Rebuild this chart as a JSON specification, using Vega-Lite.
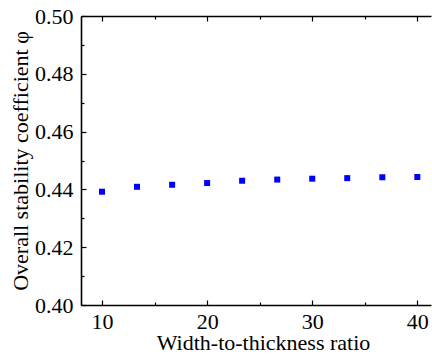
{
  "$schema": "https://vega.github.io/schema/vega-lite/v6.json",
  "autosize": {"type": "none"},
  "padding": {"left": 81, "top": 16, "right": 1, "bottom": 51},
  "width": 350,
  "height": 289,
  "background": "white",
  "config": {
    "view": {"stroke": null},
    "axis": {
      "labelFont": "Liberation Serif",
      "titleFont": "Liberation Serif",
      "labelColor": "black",
      "titleColor": "black",
      "domainColor": "black",
      "tickColor": "black",
      "grid": false,
      "titleFontWeight": "normal",
      "domainWidth": 1.6,
      "tickWidth": 1.2
    }
  },
  "data": {
    "values": [
      {"ratio": 10.0, "phi": 0.4392},
      {"ratio": 13.33, "phi": 0.4409},
      {"ratio": 16.67, "phi": 0.4416},
      {"ratio": 20.0, "phi": 0.4422},
      {"ratio": 23.33, "phi": 0.4430},
      {"ratio": 26.67, "phi": 0.4434},
      {"ratio": 30.0, "phi": 0.4437},
      {"ratio": 33.33, "phi": 0.4439},
      {"ratio": 36.67, "phi": 0.4442},
      {"ratio": 40.0, "phi": 0.4443}
    ]
  },
  "resolve": {"axis": {"x": "independent", "y": "independent"}},
  "layer": [
    {
      "mark": {"type": "point", "shape": "square", "filled": true, "size": 36, "color": "#0000FF", "opacity": 1},
      "encoding": {
        "x": {
          "field": "ratio", "type": "quantitative",
          "scale": {"domain": [8, 41.3], "nice": false, "zero": false},
          "axis": {
            "orient": "bottom", "values": [10, 20, 30, 40], "format": "d",
            "tickSize": -5, "labelPadding": 11, "labelFontSize": 22,
            "title": "Width-to-thickness ratio", "titleFontSize": 22, "titlePadding": 0, "titleX": 182
          }
        },
        "y": {
          "field": "phi", "type": "quantitative",
          "scale": {"domain": [0.40, 0.50], "nice": false, "zero": false},
          "axis": {
            "orient": "left", "values": [0.40, 0.42, 0.44, 0.46, 0.48, 0.50], "format": ".2f",
            "tickSize": -5, "labelPadding": 13, "labelFontSize": 22,
            "title": "Overall stability coefficient φ", "titleFontSize": 22, "titlePadding": 2
          }
        }
      }
    },
    {
      "mark": {"type": "point", "opacity": 0},
      "encoding": {
        "x": {
          "field": "ratio", "type": "quantitative",
          "axis": {"orient": "bottom", "values": [15, 25, 35], "tickSize": -3, "labels": false, "domain": false, "title": null}
        },
        "y": {
          "field": "phi", "type": "quantitative",
          "axis": {"orient": "left", "values": [0.41, 0.43, 0.45, 0.47, 0.49], "tickSize": -3, "labels": false, "domain": false, "title": null}
        }
      }
    },
    {
      "mark": {"type": "point", "opacity": 0},
      "encoding": {
        "x": {
          "field": "ratio", "type": "quantitative",
          "axis": {"orient": "top", "values": [10, 20, 30, 40], "tickSize": -5, "labels": false, "title": null}
        },
        "y": {"field": "phi", "type": "quantitative", "axis": null}
      }
    },
    {
      "mark": {"type": "point", "opacity": 0},
      "encoding": {
        "x": {
          "field": "ratio", "type": "quantitative",
          "axis": {"orient": "top", "values": [15, 25, 35], "tickSize": -3, "labels": false, "domain": false, "title": null}
        },
        "y": {"field": "phi", "type": "quantitative", "axis": null}
      }
    }
  ]
}
